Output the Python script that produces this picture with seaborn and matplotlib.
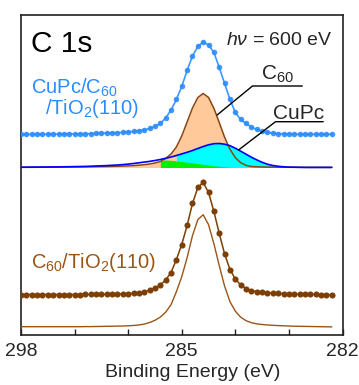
import numpy as np
import pandas as pd
import matplotlib
matplotlib.use("Agg")
import matplotlib.pyplot as plt
import seaborn as sns

# Binding energy grid (eV)
energy = [288.0, 287.9, 287.8, 287.7, 287.6, 287.5, 287.4, 287.3, 287.2, 287.1,
          287.0, 286.9, 286.8, 286.7, 286.6, 286.5, 286.4, 286.3, 286.2, 286.1,
          286.0, 285.9, 285.8, 285.7, 285.6, 285.5, 285.4, 285.3, 285.2, 285.1,
          285.0, 284.9, 284.8, 284.7, 284.6, 284.5, 284.4, 284.3, 284.2, 284.1,
          284.0, 283.9, 283.8, 283.7, 283.6, 283.5, 283.4, 283.3, 283.2, 283.1,
          283.0, 282.9, 282.8, 282.7, 282.6, 282.5, 282.4, 282.3, 282.2]

# CuPc/C60/TiO2(110): measured C 1s intensity (arb. units)
cupc_c60_data = [0.0, 0.1, 0.1, 0.2, 0.2, 0.3, 0.3, 0.4, 0.5, 0.5,
                 0.6, 0.7, 0.8, 0.9, 1.0, 1.2, 1.4, 1.6, 1.8, 2.1,
                 2.5, 3.0, 3.6, 4.5, 6.0, 8.0, 11.0, 16.5, 24.5, 35.0,
                 48.0, 64.0, 78.5, 88.0, 92.5, 89.5, 82.0, 67.0, 51.0, 35.0,
                 22.0, 15.0, 11.0, 7.5, 5.0, 3.3, 2.2, 1.4, 0.9, 0.6,
                 0.4, 0.3, 0.2, 0.2, 0.2, 0.2, 0.2, 0.2, 0.2]

# Fitted components of the CuPc/C60/TiO2(110) spectrum
c60_component = [0.2, 0.2, 0.2, 0.25, 0.25, 0.3, 0.3, 0.35, 0.4, 0.45,
                 0.5, 0.55, 0.6, 0.7, 0.8, 0.9, 1.0, 1.1, 1.2, 1.4,
                 1.6, 1.9, 2.3, 2.8, 3.5, 4.5, 6.0, 9.0, 13.5, 20.5,
                 31.5, 45.5, 59.5, 70.0, 74.0, 70.0, 59.2, 44.9, 30.2, 18.2,
                 9.9, 4.8, 2.1, 1.0, 0.7, 0.5, 0.4, 0.35, 0.3, 0.25,
                 0.2, 0.2, 0.15, 0.15, 0.1, 0.1, 0.1, 0.1, 0.1]

cupc_component = [0.3, 0.3, 0.4, 0.4, 0.5, 0.5, 0.6, 0.6, 0.7, 0.8,
                  0.9, 1.0, 1.1, 1.3, 1.5, 1.7, 1.9, 2.2, 2.5, 2.9,
                  3.4, 4.0, 4.7, 5.4, 6.1, 7.0, 8.0, 9.2, 10.5, 12.0,
                  13.6, 15.2, 17.0, 19.0, 21.0, 22.7, 23.8, 24.0, 23.3, 21.8,
                  19.3, 16.3, 13.3, 10.3, 7.6, 5.2, 3.3, 2.0, 1.2, 0.7,
                  0.4, 0.3, 0.2, 0.1, 0.1, 0.1, 0.1, 0.1, 0.1]

cupc_sub_component = [0.0, 0.0, 0.0, 0.0, 0.0, 0.0, 0.0, 0.0, 0.0, 0.0,
                      0.0, 0.0, 0.0, 0.0, 0.0, 0.0, 0.0, 0.0, 0.0, 0.0,
                      0.0, 0.0, 0.0, 0.0, 0.0, 0.0, 7.0, 7.5, 7.2, 6.6,
                      6.0, 5.3, 4.6, 3.9, 3.2, 2.5, 1.8, 1.2, 0.6, 0.2,
                      0.0, 0.0, 0.0, 0.0, 0.0, 0.0, 0.0, 0.0, 0.0, 0.0,
                      0.0, 0.0, 0.0, 0.0, 0.0, 0.0, 0.0, 0.0, 0.0]

# C60/TiO2(110): measured C 1s intensity (arb. units)
c60_data = [0.0, 0.0, 0.0, 0.0, 0.0, 0.0, 0.0, 0.0, 0.0, 0.0,
            0.0, 0.0, 0.1, 0.1, 0.2, 0.3, 0.4, 0.5, 0.6, 0.7,
            0.9, 1.2, 1.7, 2.6, 4.2, 6.4, 9.6, 14.5, 22.0, 35.0,
            50.0, 69.0, 91.0, 107.0, 112.0, 102.0, 83.0, 61.0, 40.5, 25.0,
            15.5, 9.5, 6.0, 4.0, 2.8, 2.2, 1.7, 1.4, 1.1, 0.9,
            0.7, 0.5, 0.4, 0.3, 0.2, 0.1, 0.0, -0.1, -0.2]

xtick_values = [288, 285, 282]
xtick_labels = ["298", "285", "282"]
xtick_minor = [287, 286, 284, 283]

# vertical offsets of the stacked traces
top_offset = 200.5
comp_offset = 167.5
bottom_offset = 40.5
bottom_fit_offset = 8.3

sns.set_theme(style="white")
plt.rcParams["font.family"] = ["Liberation Sans", "DejaVu Sans"]
plt.rcParams["mathtext.fontset"] = "custom"
plt.rcParams["mathtext.rm"] = "Liberation Sans"
plt.rcParams["mathtext.it"] = "Liberation Sans:italic"

E = np.array(energy)
df = pd.DataFrame({
    "E": E,
    "top": top_offset + np.array(cupc_c60_data),
    "c60c": comp_offset + np.array(c60_component),
    "cupc": comp_offset + np.array(cupc_component),
    "sub": comp_offset + np.array(cupc_sub_component),
    "bot": bottom_offset + np.array(c60_data),
    "botfit": bottom_fit_offset + np.array(c60_data),
})

fig = plt.figure(figsize=(3.59, 3.85), dpi=100)
ax = fig.add_axes([21 / 359, 50 / 385, 321.5 / 359, 320 / 385])

blue = "#2a8cff"
brown = "#7d3f05"
brown_line = "#9a5515"

# component fills
ax.fill_between(E, comp_offset, df["c60c"], color="#ffc999", lw=0, zorder=1)
ax.fill_between(E, comp_offset, df["cupc"], where=E < 285.15,
                color="#00ffff", lw=0, zorder=2)
ax.fill_between(E, comp_offset, df["sub"], where=E < 285.45,
                color="#00ee00", lw=0, zorder=3)

sns.lineplot(data=df, x="E", y="c60c", ax=ax, color="#8b4513", lw=1.1, zorder=4)
sns.lineplot(data=df, x="E", y="cupc", ax=ax, color="#0000ff", lw=1.2, zorder=5)

# measured spectra with markers
sns.lineplot(data=df, x="E", y="top", ax=ax, color=blue, lw=1.2, zorder=6,
             marker="o", markersize=4.0, markeredgewidth=0, alpha=0.9)
sns.lineplot(data=df, x="E", y="bot", ax=ax, color=brown, lw=1.1, zorder=6,
             marker="o", markersize=4.4, markeredgewidth=0)
sns.lineplot(data=df, x="E", y="botfit", ax=ax, color=brown_line, lw=1.0, zorder=5)

ax.set_xlim(288, 282)
ax.set_ylim(0, 320)
ax.set_yticks([])
ax.set_ylabel("")
ax.set_xticks(xtick_values)
ax.set_xticklabels(xtick_labels)
ax.set_xticks(xtick_minor, minor=True)
ax.tick_params(axis="x", which="both", direction="in", length=4.3, width=1.0,
               color="#222222", top=False, bottom=True, labelsize=14, pad=6)
ax.set_xlabel("Binding Energy (eV)", fontsize=14)
ax.xaxis.set_label_coords(0.533, -0.092)
for s in ax.spines.values():
    s.set_color("#222222")
    s.set_linewidth(1.2)

# labels
ax.text(287.82, 283, "C 1s", fontsize=21.5, ha="left", va="baseline", color="black")
ax.text(282.19, 290, r"$h\nu$ = 600 eV", fontsize=14, ha="right", va="baseline")
ax.text(287.81, 241.5, r"CuPc/C$_\mathregular{60}$", fontsize=14.5, color=blue,
        ha="left", va="baseline")
ax.text(287.55, 221.0, r"/TiO$_\mathregular{2}$(110)", fontsize=14.5, color=blue,
        ha="left", va="baseline")
ax.text(287.81, 66.7, r"C$_\mathregular{60}$/TiO$_\mathregular{2}$(110)", fontsize=14.5,
        color=brown_line, ha="left", va="baseline")

ax.text(283.53, 255, r"C$_\mathregular{60}$", fontsize=15, ha="left", va="baseline")
ax.plot([284.34, 283.68, 282.75], [220, 249, 249], color="black", lw=1.0, zorder=7)
ax.text(283.29, 216, "CuPc", fontsize=15, ha="left", va="baseline")
ax.plot([283.94, 283.25, 282.36], [185, 213.3, 213.3], color="black", lw=1.0, zorder=7)

fig.savefig("out.png", dpi=100)
